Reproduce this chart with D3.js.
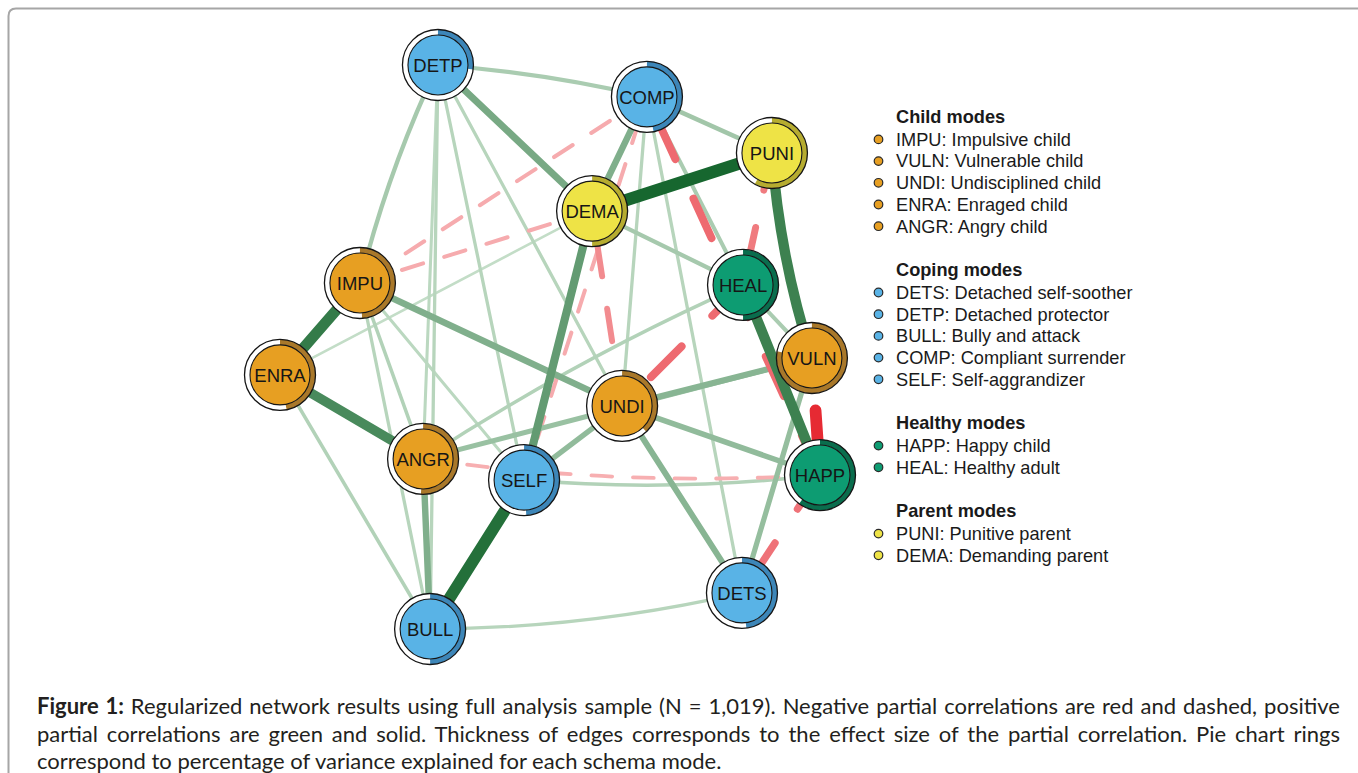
<!DOCTYPE html>
<html>
<head>
<meta charset="utf-8">
<script src="https://cdn.jsdelivr.net/npm/d3@7"></script>
<style>
  html, body { margin: 0; padding: 0; background: #ffffff; }
  svg { display: block; }
</style>
</head>
<body>
<svg id="chart" width="1358" height="773"></svg>
<script>
// ---- Schema mode nodes ----
const nodeIds = ["IMPU", "VULN", "UNDI", "ENRA", "ANGR", "DETS", "DETP", "BULL", "COMP", "SELF", "HAPP", "HEAL", "PUNI", "DEMA"];
const nodeNames = ["Impulsive child", "Vulnerable child", "Undisciplined child", "Enraged child", "Angry child",
                   "Detached self-soother", "Detached protector", "Bully and attack", "Compliant surrender", "Self-aggrandizer",
                   "Happy child", "Healthy adult", "Punitive parent", "Demanding parent"];
const nodeGroup = ["Child", "Child", "Child", "Child", "Child",
                   "Coping", "Coping", "Coping", "Coping", "Coping",
                   "Healthy", "Healthy", "Parent", "Parent"];
// proportion of variance explained (pie ring)
const varianceExplained = [0.49, 0.78, 0.38, 0.47, 0.51, 0.48, 0.27, 0.50, 0.47, 0.49, 0.60, 0.50, 0.58, 0.50];
// network layout coordinates (spring layout, normalised to [-1, 1])
const layoutX = [-0.704, 0.970, 0.267, -1.000, -0.470, 0.711, -0.415, -0.444, 0.359, -0.096, 1.000, 0.715, 0.822, 0.156];
const layoutY = [ 0.227, -0.039, -0.209, -0.099, -0.397, -0.872, 1.000, -1.000, 0.887, -0.472, -0.454, 0.220, 0.688, 0.482];

const groupTitles = ["Child modes", "Coping modes", "Healthy modes", "Parent modes"];
const groupKeys = ["Child", "Coping", "Healthy", "Parent"];

// ---- Regularised partial correlations (edges) ----
const edgeFrom = ["DEMA","SELF","IMPU","PUNI","HEAL","ENRA","DEMA","DETP","IMPU","ANGR","COMP","UNDI","UNDI","SELF","ANGR","UNDI","VULN",
                  "COMP","COMP","DEMA","DETP","DETP","HEAL","ENRA","BULL","SELF","ANGR","DETP","DETP","DETP","DETP","IMPU","IMPU","IMPU","COMP","COMP","ENRA",
                  "HAPP","HAPP","HEAL","PUNI","UNDI","HAPP","COMP","DEMA","SELF","HAPP"];
const edgeTo   = ["PUNI","BULL","ENRA","VULN","HAPP","ANGR","SELF","DEMA","UNDI","BULL","DEMA","DETS","VULN","UNDI","VULN","HAPP","DETS",
                  "PUNI","HEAL","HEAL","COMP","IMPU","VULN","BULL","DETS","HAPP","HEAL","UNDI","SELF","BULL","ANGR","ANGR","BULL","SELF","DETS","UNDI","DEMA",
                  "VULN","COMP","UNDI","HEAL","DEMA","DETS","IMPU","IMPU","COMP","ANGR"];
const edgeWeight = [0.45, 0.42, 0.38, 0.36, 0.36, 0.33, 0.27, 0.22, 0.20, 0.20, 0.20, 0.18, 0.18, 0.16, 0.14, 0.16, 0.15,
                    0.12, 0.10, 0.11, 0.10, 0.11, 0.10, 0.08, 0.07, 0.08, 0.08, 0.07, 0.07, 0.07, 0.06, 0.08, 0.07, 0.06, 0.07, 0.07, 0.04,
                    -0.42, -0.26, -0.26, -0.22, -0.18, -0.24, -0.10, -0.10, -0.10, -0.09];

// ---- Caption ----
const captionLines = [
  [["Figure 1:", true], [" Regularized network results using full analysis sample (N = 1,019). Negative partial correlations are red and dashed, positive", false]],
  [["partial correlations are green and solid. Thickness of edges corresponds to the effect size of the partial correlation. Pie chart rings", false]],
  [["correspond to percentage of variance explained for each schema mode.", false]]
];

// ---- Styling ----
const groupFill = { Child: "#E79F22", Coping: "#59B3E6", Healthy: "#0D9C72", Parent: "#EEE346" };
const groupRing = { Child: "#A9782A", Coping: "#3D86B8", Healthy: "#0A6D4D", Parent: "#B6AC30" };
// gentle bends for a few edges (fraction of edge length, positive bends to the right of travel)
const edgeBend = { "DETP-COMP": -0.02, "DETP-IMPU": 0.025, "PUNI-VULN": 0.03, "BULL-DETS": 0.028,
                   "SELF-HAPP": 0.025, "HAPP-ANGR": -0.025, "ANGR-HEAL": -0.02 };

const svg = d3.select("#chart");

// frame around the figure
svg.append("path")
  .attr("d", "M8.5,773 V16 Q8.5,8.5 16,8.5 H1358")
  .attr("fill", "none")
  .attr("stroke", "#a6a6a6")
  .attr("stroke-width", 2);

const x = d3.scaleLinear().domain([-1, 1]).range([280, 820]);
const y = d3.scaleLinear().domain([-1, 1]).range([629, 65]);

const nodes = nodeIds.map((id, i) => ({
  id, name: nodeNames[i], group: nodeGroup[i], pie: varianceExplained[i],
  x: x(layoutX[i]), y: y(layoutY[i])
}));
const byId = new Map(nodes.map(n => [n.id, n]));

const edges = edgeFrom.map((f, i) => ({ source: byId.get(f), target: byId.get(edgeTo[i]), w: edgeWeight[i], key: f + "-" + edgeTo[i] }))
  .sort((a, b) => Math.abs(a.w) - Math.abs(b.w));

const maxW = d3.max(edges, e => Math.abs(e.w));
const width = d3.scaleLinear().domain([0, maxW]).range([1.6, 12.5]);
const posColor = d3.scaleLinear().domain([0, maxW]).range(["#d4e9d6", "#17672f"]).interpolate(d3.interpolateRgb);
const negColor = d3.scaleLinear().domain([0, maxW]).range(["#fbd3d4", "#e51e27"]).interpolate(d3.interpolateRgb);

function edgePath(e) {
  const a = e.source, b = e.target;
  const c = edgeBend[e.key] || 0;
  if (!c) return `M${a.x},${a.y}L${b.x},${b.y}`;
  const dx = b.x - a.x, dy = b.y - a.y;
  const cx = (a.x + b.x) / 2 + 2 * c * (-dy);
  const cy = (a.y + b.y) / 2 + 2 * c * dx;
  return `M${a.x},${a.y}Q${cx},${cy} ${b.x},${b.y}`;
}

const edgeLayer = svg.append("g").attr("class", "edges");
edgeLayer.selectAll("path")
  .data(edges)
  .join("path")
  .attr("d", edgePath)
  .attr("fill", "none")
  .attr("stroke", e => e.w > 0 ? posColor(e.w) : negColor(-e.w))
  .attr("stroke-width", e => width(Math.abs(e.w)))
  .attr("stroke-linecap", "round")
  .attr("stroke-dasharray", e => {
    if (e.w > 0) return null;
    const d = Math.max(5.5 * width(-e.w), 18);
    return `${d},${d}`;
  });

// nodes with variance pie rings
const R_OUT = 35.5, R_IN = 30;
const ring = d3.arc().innerRadius(R_IN).outerRadius(R_OUT).startAngle(0);
const nodeLayer = svg.append("g").attr("class", "nodes");
const ng = nodeLayer.selectAll("g")
  .data(nodes)
  .join("g")
  .attr("transform", d => `translate(${d.x},${d.y})`);

ng.append("circle").attr("r", R_OUT).attr("fill", "#ffffff");
ng.append("path")
  .attr("d", d => ring({ endAngle: 2 * Math.PI * d.pie }))
  .attr("fill", d => groupRing[d.group]);
ng.append("circle").attr("r", R_OUT).attr("fill", "none").attr("stroke", "#151515").attr("stroke-width", 1.3);
ng.append("circle").attr("r", R_IN).attr("fill", d => groupFill[d.group]).attr("stroke", "#151515").attr("stroke-width", 1.1);
ng.append("text")
  .attr("text-anchor", "middle")
  .attr("dy", "0.36em")
  .attr("font-family", "'Liberation Sans', Arial, sans-serif")
  .attr("font-size", 18.5)
  .attr("fill", "#161616")
  .text(d => d.id);

// legend
const legend = svg.append("g").attr("class", "legend")
  .attr("font-family", "'Liberation Sans', Arial, sans-serif")
  .attr("font-size", 18.2)
  .attr("fill", "#1a1a1a");
let ly = 123;
groupKeys.forEach((g, gi) => {
  legend.append("text").attr("x", 896).attr("y", ly).attr("font-weight", "bold").text(groupTitles[gi]);
  const members = nodes.filter(n => n.group === g);
  members.forEach((n, i) => {
    const yy = ly + 22.7 + i * 21.7;
    legend.append("circle").attr("cx", 878.5).attr("cy", yy - 6.3).attr("r", 4.3)
      .attr("fill", groupFill[g]).attr("stroke", "#2a2a2a").attr("stroke-width", 1.2);
    legend.append("text").attr("x", 896).attr("y", yy).text(`${n.id}: ${n.name}`);
  });
  ly = ly + 22.7 + (members.length - 1) * 21.7 + 43.6;
});

// caption: justified lines are filled out by widening the word gaps,
// the closing line keeps its natural width
const capTargets = [1303, 1303, null];
const capBase = [714, 742, 769];
const cap = svg.append("g").attr("class", "caption")
  .attr("font-family", "Lato, 'Open Sans', sans-serif")
  .attr("font-size", 22)
  .attr("fill", "#231f20");
captionLines.forEach((parts, li) => {
  const t = cap.append("text").attr("x", 37).attr("y", capBase[li]);
  parts.forEach(([s, bold]) => t.append("tspan").attr("font-weight", bold ? "bold" : "normal").text(s));
  const target = capTargets[li];
  if (!target) return;
  const full = parts.map(p => p[0]).join("");
  const natural = t.node().getComputedTextLength();
  const gaps = full.split(" ").length - 1;
  if (natural > target) {
    t.attr("textLength", target).attr("lengthAdjust", "spacingAndGlyphs");
  } else {
    t.attr("word-spacing", ((target - natural) / gaps).toFixed(2));
  }
});
</script>
</body>
</html>
